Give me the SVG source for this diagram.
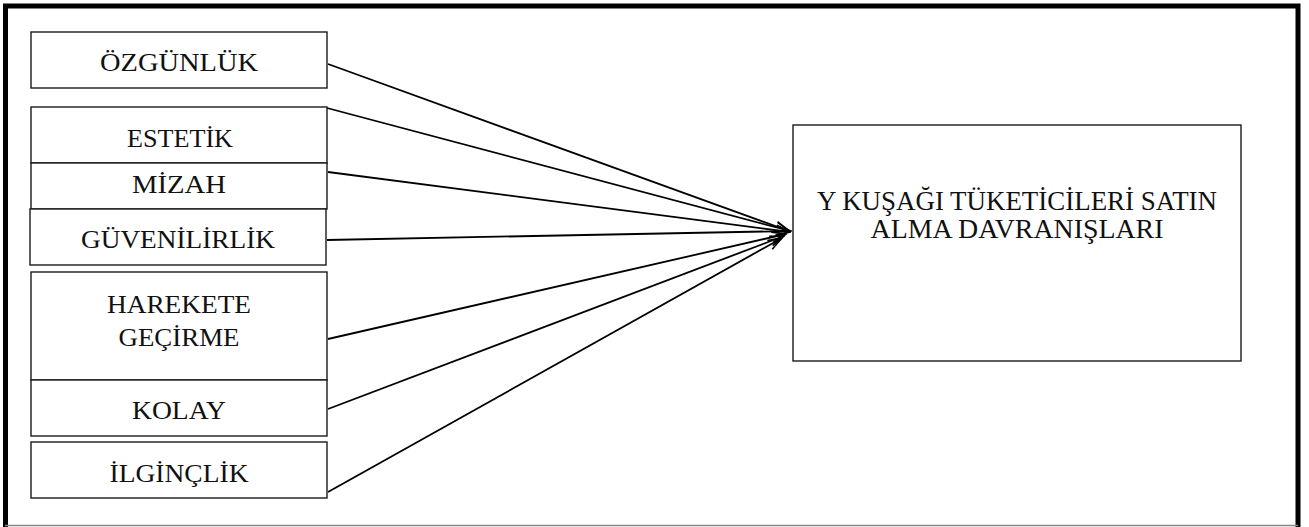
<svg xmlns="http://www.w3.org/2000/svg" width="1309" height="527" viewBox="0 0 1309 527">
<style>
  .box { fill: #ffffff; stroke: #1a1a1a; stroke-width: 1.4; }
  .lbl { font-family: "Liberation Serif", "Times New Roman", serif; font-size: 26px; fill: #111; text-anchor: middle; }
  .big { font-size: 27px; }
  .conn { stroke: #000; stroke-width: 1.8; fill: none; marker-end: url(#arr); }
</style>
<defs>
  <marker id="arr" markerWidth="16" markerHeight="12" refX="15" refY="6" orient="auto" markerUnits="userSpaceOnUse">
    <path d="M1,1 L15,6 L1,11" fill="none" stroke="#000" stroke-width="1.6"/>
  </marker>
</defs>
<rect x="0" y="0" width="1309" height="527" fill="#ffffff"/>
<g id="frame">
  <path d="M5.5,527 L5.5,6 L1298,6 L1298,527" fill="none" stroke="#000" stroke-width="5"/>
  <line x1="5" y1="525.5" x2="1298" y2="525.5" stroke="#888" stroke-width="1.5"/>
</g>
<g id="connectors">
  <line class="conn" x1="328" y1="64" x2="789" y2="231"/>
  <line class="conn" x1="327" y1="108" x2="790" y2="231"/>
  <line class="conn" x1="328" y1="172" x2="790" y2="232"/>
  <line class="conn" x1="327" y1="240" x2="791" y2="231"/>
  <line class="conn" x1="328" y1="339" x2="786" y2="234"/>
  <line class="conn" x1="328" y1="409" x2="784" y2="236"/>
  <line class="conn" x1="328" y1="492" x2="782" y2="238"/>
</g>
<g id="n-ozgunluk">
  <rect class="box" x="31" y="32" width="296" height="56"/>
  <text class="lbl" x="179" y="71" textLength="158" lengthAdjust="spacingAndGlyphs">ÖZGÜNLÜK</text>
</g>
<g id="n-estetik">
  <rect class="box" x="31" y="107" width="296" height="56"/>
  <text class="lbl" x="180" y="147" textLength="106" lengthAdjust="spacingAndGlyphs">ESTETİK</text>
</g>
<g id="n-mizah">
  <rect class="box" x="31" y="163" width="296" height="46"/>
  <text class="lbl" x="179" y="193" textLength="94" lengthAdjust="spacingAndGlyphs">MİZAH</text>
</g>
<g id="n-guvenilirlik">
  <rect class="box" x="30" y="209" width="296" height="56"/>
  <text class="lbl" x="178" y="248" textLength="194" lengthAdjust="spacingAndGlyphs">GÜVENİLİRLİK</text>
</g>
<g id="n-harekete">
  <rect class="box" x="31" y="272" width="296" height="108"/>
  <text class="lbl" x="179" y="313" textLength="144" lengthAdjust="spacingAndGlyphs">HAREKETE</text>
  <text class="lbl" x="179" y="346" textLength="121" lengthAdjust="spacingAndGlyphs">GEÇİRME</text>
</g>
<g id="n-kolay">
  <rect class="box" x="31" y="380" width="296" height="56"/>
  <text class="lbl" x="179" y="419" textLength="94" lengthAdjust="spacingAndGlyphs">KOLAY</text>
</g>
<g id="n-ilginclik">
  <rect class="box" x="31" y="442" width="296" height="56"/>
  <text class="lbl" x="179" y="482" textLength="139" lengthAdjust="spacingAndGlyphs">İLGİNÇLİK</text>
</g>
<g id="n-target">
  <rect class="box" x="793" y="125" width="448" height="236"/>
  <text class="lbl big" x="1017" y="210" textLength="400" lengthAdjust="spacingAndGlyphs">Y KUŞAĞI TÜKETİCİLERİ SATIN</text>
  <text class="lbl big" x="1017" y="238" textLength="293" lengthAdjust="spacingAndGlyphs">ALMA DAVRANIŞLARI</text>
</g>
</svg>
